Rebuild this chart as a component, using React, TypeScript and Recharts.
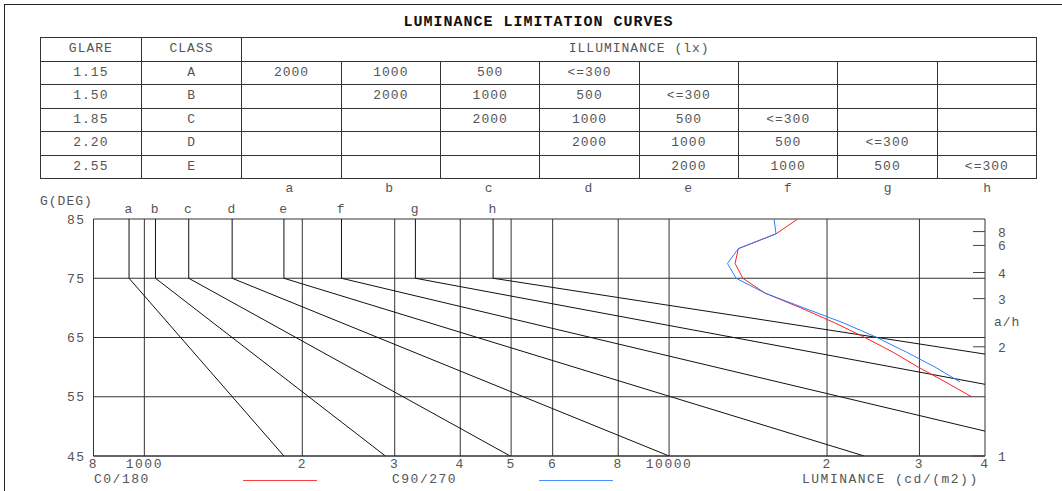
import React from 'react'
import { LineChart, Line, XAxis, YAxis, CartesianGrid } from 'recharts'

// limitation lines a..h : vertical 85..75 deg, then straight to the end point
const curveLetters = ['a', 'b', 'c', 'd', 'e', 'f', 'g', 'h']
const startLum = [935, 1050, 1215, 1470, 1845, 2375, 3285, 4620]
const endLum = [1845, 2880, 4980, 10000, 23550, 40000, 40000, 40000]
const endDeg = [45, 45, 45, 45, 45, 49.2, 57.1, 62.2]

// luminance curves of the luminaire
const angles = [85, 82.5, 80, 77.5, 75, 72.5, 70, 67.5, 65, 62.5, 60, 57.5, 55]
const c0Lum = [17590, 15990, 13550, 13360, 13820, 15230, 17830, 20660, 23620, 26740, 29850, 33620, 37730]
const c90Lum = [15850, 15990, 13550, 12920, 13420, 15230, 18060, 21450, 24890, 28380, 32140, 35840]

// table
const glareValues = ['1.15', '1.50', '1.85', '2.20', '2.55']
const glareClasses = ['A', 'B', 'C', 'D', 'E']
const illuminanceSteps = ['2000', '1000', '500', '<=300']

// axes
const lumTicks = [800, 1000, 2000, 3000, 4000, 5000, 6000, 8000, 10000, 20000, 30000, 40000]
const degTicks = [45, 55, 65, 75, 85]
const ratioTicks = [1, 2, 3, 4, 6, 8]

const mono = '"Liberation Mono", "DejaVu Sans Mono", monospace'
const textColor = '#555'
const tickStyle = { fill: textColor, fontSize: 13, fontFamily: mono, letterSpacing: 1.5 }

const limitLines = curveLetters.map((letter, i) => ({
  letter,
  data: [
    { lum: startLum[i], deg: 85 },
    { lum: startLum[i], deg: 75 },
    { lum: endLum[i], deg: endDeg[i] },
  ],
}))
const c0Data = angles.map((deg, i) => ({ lum: c0Lum[i], deg }))
const c90Data = c90Lum.map((lum, i) => ({ lum, deg: angles[i] }))
const ratioDeg = ratioTicks.map((r) => (Math.atan(r) * 180) / Math.PI)

const RatioTick = (props: any) => {
  const { x, y, payload } = props
  const ratio = Math.round(Math.tan((payload.value * Math.PI) / 180))
  return (
    <g>
      <line x1={x - 25} x2={x - 13} y1={y} y2={y} stroke="#444" />
      <text x={x} y={y} dy={5} fill={textColor} fontSize={13} fontFamily={mono}>
        {ratio}
      </text>
    </g>
  )
}

const cell: React.CSSProperties = {
  border: '1px solid #333',
  padding: 0,
  textAlign: 'center',
  verticalAlign: 'middle',
}

const App = () => {
  const colWidth = 99.7
  return (
    <div
      style={{
        position: 'absolute',
        left: 0,
        top: 0,
        width: 1062,
        height: 491,
        overflow: 'hidden',
        background: '#fff',
        fontFamily: mono,
        color: textColor,
        fontSize: 13,
        letterSpacing: 1,
      }}
    >
      <div
        style={{
          position: 'absolute',
          left: 4,
          top: 4,
          width: 2000,
          height: 2000,
          borderTop: '1px solid #222',
          borderLeft: '1px solid #222',
        }}
      />
      <div
        style={{
          position: 'absolute',
          left: 40,
          top: 14,
          width: 997,
          textAlign: 'center',
          fontSize: 15,
          fontWeight: 'bold',
          color: '#111',
          lineHeight: '18px',
        }}
      >
        LUMINANCE LIMITATION CURVES
      </div>
      <table
        style={{
          position: 'absolute',
          left: 40,
          top: 37,
          width: 997,
          height: 141,
          borderCollapse: 'collapse',
          tableLayout: 'fixed',
          fontSize: 13,
          lineHeight: '14px',
        }}
      >
        <tbody>
          <tr style={{ height: 23.5 }}>
            <td style={{ ...cell, width: colWidth }}>GLARE</td>
            <td style={{ ...cell, width: colWidth }}>CLASS</td>
            <td style={cell} colSpan={8}>
              ILLUMINANCE (lx)
            </td>
          </tr>
          {glareValues.map((g, row) => (
            <tr key={g} style={{ height: 23.5 }}>
              <td style={cell}>{g}</td>
              <td style={cell}>{glareClasses[row]}</td>
              {curveLetters.map((_, col) => {
                const k = col - row
                return (
                  <td key={col} style={cell}>
                    {k >= 0 && k < illuminanceSteps.length ? illuminanceSteps[k] : ''}
                  </td>
                )
              })}
            </tr>
          ))}
        </tbody>
      </table>
      {curveLetters.map((l, i) => (
        <div
          key={l}
          style={{
            position: 'absolute',
            top: 182,
            left: 240 + i * colWidth,
            width: colWidth,
            textAlign: 'center',
            lineHeight: '14px',
          }}
        >
          {l}
        </div>
      ))}
      <div style={{ position: 'absolute', left: 40, top: 195, lineHeight: '14px' }}>G(DEG)</div>
      <div style={{ position: 'absolute', left: 994, top: 316, lineHeight: '14px' }}>a/h</div>

      <LineChart
        width={1062}
        height={491}
        margin={{ top: 199, right: 27, bottom: 5, left: 33.5 }}
        style={{ position: 'absolute', left: 0, top: 0 }}
      >
        <CartesianGrid xAxisId="lum" yAxisId="deg" stroke="#333" strokeWidth={1} />
        <XAxis
          xAxisId="lum"
          dataKey="lum"
          type="number"
          scale="log"
          domain={[800, 40000]}
          allowDataOverflow
          ticks={lumTicks}
          interval={0}
          height={30}
          tickLine={false}
          tickSize={0}
          tickMargin={3}
          axisLine={{ stroke: '#333' }}
          tick={tickStyle}
          tickFormatter={(v: number) => (v === 1000 || v === 10000 ? String(v) : String(v).charAt(0))}
        />
        <XAxis
          xAxisId="top"
          orientation="top"
          dataKey="lum"
          type="number"
          scale="log"
          domain={[800, 40000]}
          allowDataOverflow
          ticks={startLum}
          interval={0}
          height={20}
          axisLine={false}
          tickLine={false}
          tickSize={0}
          tickMargin={6}
          tick={tickStyle}
          tickFormatter={(v: number) => curveLetters[startLum.indexOf(v)]}
        />
        <YAxis
          yAxisId="deg"
          dataKey="deg"
          type="number"
          domain={[45, 85]}
          allowDataOverflow
          ticks={degTicks}
          interval={0}
          width={60}
          tickLine={false}
          tickSize={0}
          tickMargin={8}
          axisLine={{ stroke: '#333' }}
          tick={tickStyle}
        />
        <YAxis
          yAxisId="ah"
          orientation="right"
          type="number"
          domain={[45, 85]}
          allowDataOverflow
          ticks={ratioDeg}
          interval={0}
          width={50}
          axisLine={false}
          tickLine={false}
          tickSize={0}
          tickMargin={13}
          tick={<RatioTick />}
        />
        {limitLines.map((s) => (
          <Line
            key={s.letter}
            xAxisId="lum"
            yAxisId="deg"
            data={s.data}
            dataKey="deg"
            type="linear"
            stroke="#111"
            strokeWidth={1}
            dot={false}
            isAnimationActive={false}
          />
        ))}
        <Line
          xAxisId="lum"
          yAxisId="deg"
          data={c0Data}
          dataKey="deg"
          name="C0/180"
          type="linear"
          stroke="#ff2020"
          strokeWidth={1}
          dot={false}
          isAnimationActive={false}
        />
        <Line
          xAxisId="lum"
          yAxisId="deg"
          data={c90Data}
          dataKey="deg"
          name="C90/270"
          type="linear"
          stroke="#2a7fff"
          strokeWidth={1}
          dot={false}
          isAnimationActive={false}
        />
      </LineChart>

      <div style={{ position: 'absolute', left: 94, top: 473, lineHeight: '14px', letterSpacing: 1.5 }}>C0/180</div>
      <div style={{ position: 'absolute', left: 243, top: 480, width: 74, borderTop: '1.5px solid #ff4040' }} />
      <div style={{ position: 'absolute', left: 392, top: 473, lineHeight: '14px', letterSpacing: 1.5 }}>C90/270</div>
      <div style={{ position: 'absolute', left: 539, top: 480, width: 74, borderTop: '1.5px solid #4a90ff' }} />
      <div style={{ position: 'absolute', left: 802, top: 473, lineHeight: '14px', letterSpacing: 1.5 }}>
        LUMINANCE (cd/(m2))
      </div>
    </div>
  )
}

export default App
